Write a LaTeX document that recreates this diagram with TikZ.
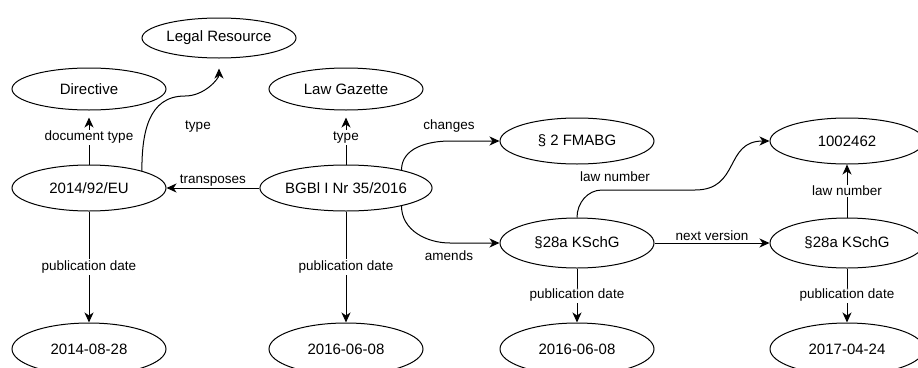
\documentclass[tikz,border=0pt]{standalone}
\usepackage{fontspec}
\setmainfont{Liberation Sans}
\usetikzlibrary{shapes.geometric,arrows.meta}
\begin{document}
\begin{tikzpicture}[x=1pt,y=-1pt,
  ent/.style={ellipse,draw,line width=1pt,minimum width=154pt,inner sep=0pt,font=\fontsize{15}{17}\selectfont},
  rel/.style={line width=1pt,-{Stealth[length=10pt,width=9pt,inset=3pt]}},
  lbl/.style={fill=white,inner sep=1.5pt,font=\fontsize{13.5}{15}\selectfont}]
\useasboundingbox (0,0) rectangle (918,367);
\node[ent,minimum height=40pt] (lr) at (219,38) {Legal Resource};
\node[ent,minimum height=42pt] (dir) at (89,89) {Directive};
\node[ent,minimum height=42pt] (lg) at (346,89) {Law Gazette};
\node[ent,minimum height=46pt] (fm) at (577,141) {§ 2 FMABG};
\node[ent,minimum height=46pt] (ln) at (847,141) {1002462};
\node[ent,minimum height=46pt] (eu) at (89,188) {2014/92/EU};
\node[ent,minimum height=46pt] (bg) at (346,188) {BGBl I Nr 35/2016};
\node[ent,minimum height=50pt] (ks1) at (577,243) {§28a KSchG};
\node[ent,minimum height=50pt] (ks2) at (847,243) {§28a KSchG};
\node[ent,minimum height=52pt] (d1) at (89,349) {2014-08-28};
\node[ent,minimum height=52pt] (d2) at (346,349) {2016-06-08};
\node[ent,minimum height=52pt] (d3) at (577,349) {2016-06-08};
\node[ent,minimum height=52pt] (d4) at (847,349) {2017-04-24};
\draw[rel,shorten >=7pt] (eu) -- node[lbl]{document type} (dir);
\draw[rel,shorten >=10pt] (eu.18) to[out=90,in=180,looseness=1.1] (185,96) to[out=0,in=-90] (lr.south);
\node[lbl,fill=none] (ty1) at (198,127) {type};
\draw[rel,shorten >=7pt] (bg) -- node[lbl]{type} (lg);
\draw[rel] (bg) -- node[lbl,fill=none,above]{transposes} (eu);
\draw[rel] (bg.18) to[out=90,in=180] (450,141) -- (fm.west);
\node[lbl,fill=none] (ch) at (449,126) {changes};
\draw[rel] (bg.-18) to[out=-90,in=180] (450,243) -- (ks1.west);
\node[lbl,fill=none] (am) at (449,256) {amends};
\draw[rel] (eu) -- node[lbl]{publication date} (d1);
\draw[rel] (bg) -- node[lbl]{publication date} (d2);
\draw[rel] (ks1.north) to[out=90,in=180] (602,190) -- (695,190) to[out=0,in=180,looseness=1.3] (ln.west);
\node[lbl,fill=none] (ln1) at (615,177) {law number};
\draw[rel] (ks1) -- node[lbl,fill=none,above]{next version} (ks2);
\draw[rel] (ks2) -- node[lbl]{law number} (ln);
\draw[rel] (ks1) -- node[lbl]{publication date} (d3);
\draw[rel] (ks2) -- node[lbl]{publication date} (d4);
\end{tikzpicture}
\end{document}
